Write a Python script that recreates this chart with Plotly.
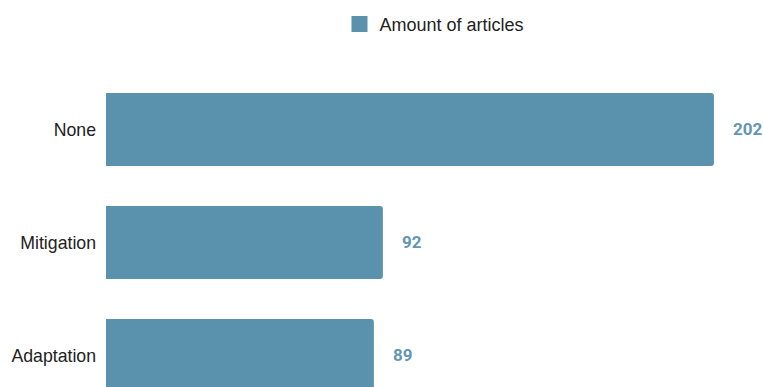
import plotly.graph_objects as go

# Article counts per climate-action category
categories = ["None", "Mitigation", "Adaptation"]
counts = [202, 92, 89]
series_name = "Amount of articles"

bar_color = "#5a91ad"
label_color = "#6396b2"

fig = go.Figure()

fig.add_trace(go.Bar(
    y=categories,
    x=counts,
    orientation="h",
    width=0.646,
    marker=dict(color=bar_color, line=dict(width=0), cornerradius=3),
    showlegend=False,
    hoverinfo="x+y",
))

# Legend entry with a larger square swatch
fig.add_trace(go.Scatter(
    x=[None], y=[None],
    mode="markers",
    name=series_name,
    marker=dict(symbol="square", size=18, color=bar_color),
    showlegend=True,
))

# Value labels to the right of each bar
for cat, val in zip(categories, counts):
    fig.add_annotation(
        x=val, y=cat, xref="x", yref="y",
        text=f"<b>{val}</b>", showarrow=False,
        xanchor="left", yanchor="middle", xshift=17,
        font=dict(family="Roboto", size=17, color=label_color),
    )

fig.update_layout(
    width=763, height=387,
    margin=dict(l=106, r=0, t=80, b=0),
    paper_bgcolor="white",
    plot_bgcolor="white",
    font=dict(family="Liberation Sans, Arial", size=17.7, color="#222222"),
    legend=dict(
        orientation="h",
        x=0.5, xanchor="center",
        y=0.985, yanchor="top",
        yref="container",
        font=dict(size=18, color="#222222"),
        itemsizing="trace",
    ),
    xaxis=dict(
        range=[0, 218.3],
        showgrid=False, zeroline=False, showticklabels=False,
        showline=False, fixedrange=True,
    ),
    yaxis=dict(
        type="category",
        categoryorder="array", categoryarray=categories,
        range=[2.279, -0.438],
        showgrid=False, zeroline=False, showline=False,
        ticks="", ticklabelstandoff=9,
        tickfont=dict(size=17.7, color="#222222"),
    ),
)

fig.write_html("out.html")
